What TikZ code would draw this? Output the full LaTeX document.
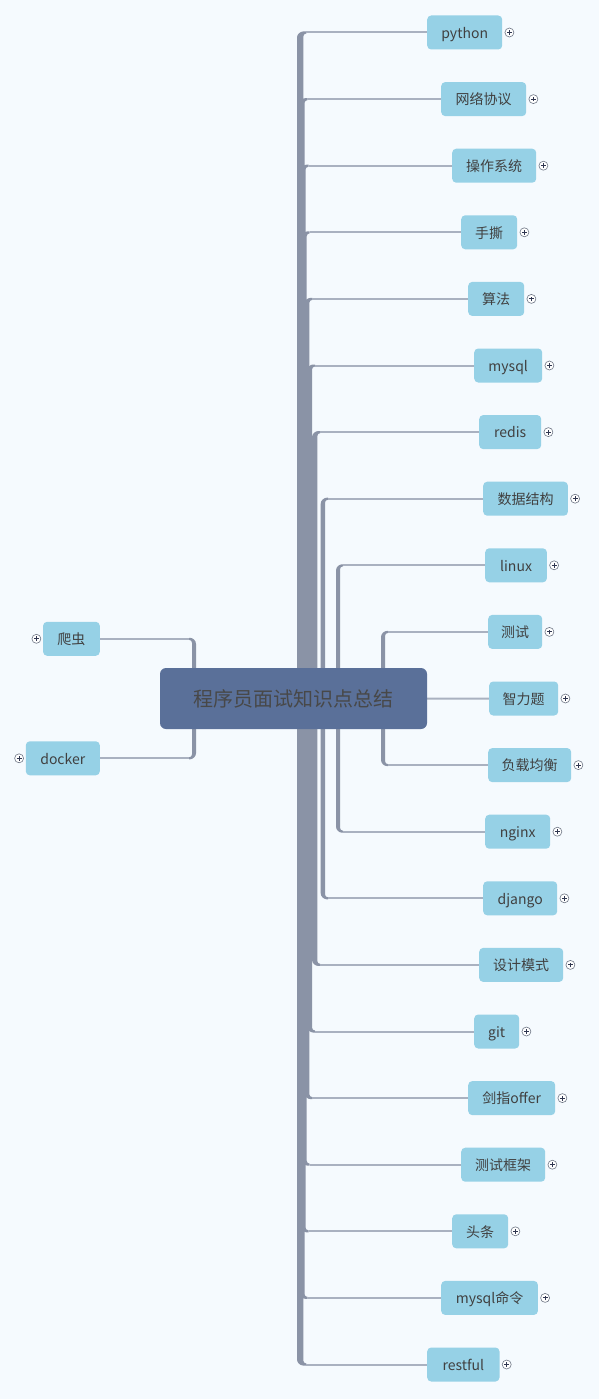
\documentclass[tikz,border=0pt]{standalone}
\usepackage{fontspec}
\setmainfont{Noto Sans CJK SC}
\definecolor{bg}{HTML}{F5FAFE}
\definecolor{rootfill}{HTML}{5A7099}
\definecolor{kidfill}{HTML}{96D1E6}
\definecolor{txt}{HTML}{404040}
\definecolor{roottxt}{HTML}{484848}
\definecolor{conn}{HTML}{8A93A6}
\definecolor{hlc}{HTML}{A9B1C0}
\definecolor{plusc}{HTML}{2F3650}
\pgfdeclarelayer{bgl}
\pgfdeclarelayer{back}
\pgfsetlayers{bgl,back,main}
\tikzset{
  kid/.style={rectangle, rounded corners=4pt, fill=kidfill, text=txt,
    font=\fontsize{14}{16}\selectfont, minimum height=34pt, inner sep=0pt,
    text height=13.5pt, text depth=2pt},
  rootbox/.style={rectangle, rounded corners=6pt, fill=rootfill, text=roottxt,
    font=\fontsize{20}{24}\selectfont, minimum width=267pt, minimum height=61pt,
    inner sep=0pt, text height=18.5pt, text depth=3pt},
  hl/.style={draw=hlc, line width=2pt},
  pluscirc/.style={circle, draw=conn!80!black, line width=0.6pt, fill=white,
    minimum size=9pt, inner sep=0pt,
    path picture={\draw[plusc, line width=0.9pt]
      ([xshift=-2.4pt]path picture bounding box.center) -- ([xshift=2.4pt]path picture bounding box.center)
      ([yshift=-2.4pt]path picture bounding box.center) -- ([yshift=2.4pt]path picture bounding box.center);}}
}
\begin{document}
\begin{tikzpicture}[x=1pt,y=-1pt]
\begin{pgfonlayer}{bgl}
\fill[bg] (0,0) rectangle (599,1399);
\end{pgfonlayer}
\useasboundingbox (0,0) rectangle (599,1399);

% root
\node[rootbox] (root) at (293.5,698.5) {程序员面试知识点总结};

% right children
\foreach \k/\lx/\w/\t in {
  0/427/75/python, 1/441/85/网络协议, 2/452/84/操作系统, 3/461/56/手撕,
  4/468/56/算法, 5/474/68/mysql, 6/479/62/redis, 7/483/84.7/数据结构,
  8/485/61.7/linux, 9/488/54/测试, 10/489/69/智力题, 11/488/83/负载均衡,
  12/485/65/nginx, 13/483/74/django, 14/479/84/设计模式, 15/474/45/git,
  16/468/87/剑指offer, 17/461/84/测试框架, 18/452/56/头条, 19/441/96.7/mysql命令,
  20/427/72.3/restful}{
  \pgfmathsetmacro\yy{32.5+66.6*\k}
  \node[kid, anchor=west, minimum width=\w pt] (n\k) at (\lx,\yy) {\t};
  \node[pluscirc] (p\k) at ([xshift=7pt]n\k.east) {};
}

% left children
\node[kid, anchor=east, minimum width=56.7pt] (la) at (100,638.8) {爬虫};
\node[pluscirc] (pla) at ([xshift=-6.5pt]la.west) {};
\node[kid, anchor=east, minimum width=74pt] (lb) at (100,758.3) {docker};
\node[pluscirc] (plb) at ([xshift=-6.5pt]lb.west) {};

\begin{pgfonlayer}{back}
% right branches (pairs k and 20-k share a vertical)
\foreach \k/\L/\R in {0/297/303.3, 1/299.5/304.5, 2/300.5/305.5, 3/301.7/306.7,
  4/304.3/309.3, 5/307/312, 6/312/317.3, 7/320.7/325, 8/336/340, 9/381/385}{
  \pgfmathsetmacro\yt{32.5+66.6*\k}
  \pgfmathsetmacro\yb{32.5+66.6*(20-\k)}
  \pgfmathtruncatemacro\kb{20-\k}
  % top branch
  \fill[conn] (\L,698.5) -- (\L,\yt+5) .. controls (\L,\yt+1.6) and (\L+3.4,\yt-1) .. (\L+6,\yt-1)
     -- (\R+3,\yt-1) -- (\R+3,\yt+1) .. controls (\R+1.3,\yt+1) and (\R,\yt+2.3) .. (\R,\yt+4)
     -- (\R,698.5) -- cycle;
  \draw[hl] (\R+3,\yt) -- (n\k.west);
  % bottom branch
  \fill[conn] (\L,698.5) -- (\L,\yb-5) .. controls (\L,\yb-1.6) and (\L+3.4,\yb+1) .. (\L+6,\yb+1)
     -- (\R+3,\yb+1) -- (\R+3,\yb-1) .. controls (\R+1.3,\yb-1) and (\R,\yb-2.3) .. (\R,\yb-4)
     -- (\R,698.5) -- cycle;
  \draw[hl] (\R+3,\yb) -- (n\kb.west);
}
% middle straight branch
\draw[hl] (root.east) -- (n10.west);

% left branches
\fill[conn] (196,698.5) -- (196,643.8) .. controls (196,640.4) and (192.6,637.8) .. (190,637.8)
   -- (189,637.8) -- (189,639.8) .. controls (190.7,639.8) and (192,641.1) .. (192,642.8)
   -- (192,698.5) -- cycle;
\draw[hl] (189,638.8) -- (la.east);
\fill[conn] (196,698.5) -- (196,753.3) .. controls (196,756.7) and (192.6,759.3) .. (190,759.3)
   -- (189,759.3) -- (189,757.3) .. controls (190.7,757.3) and (192,756) .. (192,754.3)
   -- (192,698.5) -- cycle;
\draw[hl] (189,758.3) -- (lb.east);
\end{pgfonlayer}
\end{tikzpicture}
\end{document}
